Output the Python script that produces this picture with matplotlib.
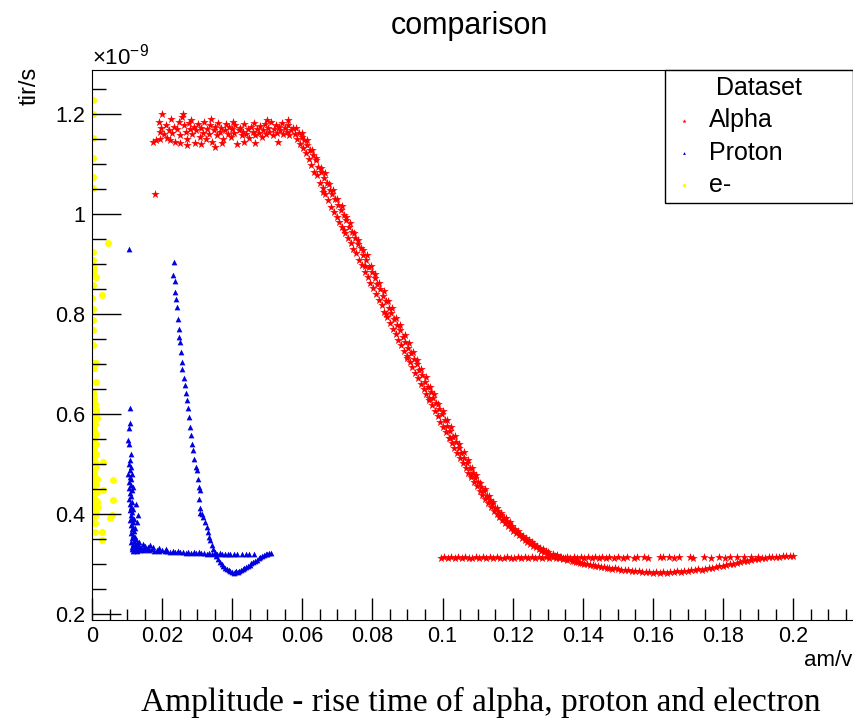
import numpy as np
import matplotlib
matplotlib.use("Agg")
import matplotlib.pyplot as plt
from matplotlib.ticker import MultipleLocator, FuncFormatter

plt.rcParams['font.family'] = ['Liberation Sans', 'DejaVu Sans']
plt.rcParams['mathtext.fontset'] = 'custom'
plt.rcParams['mathtext.rm'] = 'Liberation Sans'

# amplitude (am/v) vs rise time (tir/s, in units of 1e-9 s)
alpha_plateau = [
    (0.0180, 1.041), (0.0175, 1.145), (0.0182, 1.148), (0.0190, 1.185), (0.0193, 1.165),
    (0.0198, 1.172), (0.0201, 1.200), (0.0205, 1.160), (0.0210, 1.178), (0.0214, 1.152),
    (0.0220, 1.168), (0.0225, 1.190), (0.0229, 1.162), (0.0234, 1.175), (0.0238, 1.145),
    (0.0243, 1.170), (0.0248, 1.185), (0.0252, 1.158), (0.0256, 1.195), (0.0260, 1.200),
    (0.0263, 1.178), (0.0268, 1.165), (0.0272, 1.150), (0.0276, 1.182), (0.0281, 1.170),
    (0.0285, 1.160), (0.0290, 1.175), (0.0294, 1.142), (0.0298, 1.168), (0.0303, 1.180),
    (0.0307, 1.155), (0.0312, 1.172), (0.0316, 1.163), (0.0320, 1.185), (0.0325, 1.150),
    (0.0329, 1.170), (0.0334, 1.160), (0.0338, 1.178), (0.0342, 1.145), (0.0347, 1.168),
    (0.0351, 1.175), (0.0356, 1.158), (0.0360, 1.182), (0.0365, 1.165), (0.0369, 1.172),
    (0.0373, 1.150), (0.0378, 1.168), (0.0382, 1.180), (0.0387, 1.160), (0.0391, 1.175),
    (0.0396, 1.155), (0.0400, 1.170), (0.0405, 1.162), (0.0409, 1.178), (0.0413, 1.140),
    (0.0418, 1.168), (0.0422, 1.172), (0.0427, 1.158), (0.0431, 1.165), (0.0435, 1.180),
    (0.0440, 1.160), (0.0444, 1.170), (0.0449, 1.152), (0.0453, 1.175), (0.0458, 1.165),
    (0.0462, 1.182), (0.0466, 1.158), (0.0471, 1.170), (0.0475, 1.163), (0.0480, 1.176),
    (0.0484, 1.155), (0.0489, 1.168), (0.0493, 1.180), (0.0497, 1.160), (0.0502, 1.172),
    (0.0506, 1.165), (0.0511, 1.185), (0.0515, 1.158), (0.0519, 1.170), (0.0524, 1.178),
    (0.0528, 1.162), (0.0533, 1.175), (0.0537, 1.168), (0.0542, 1.182), (0.0546, 1.160),
    (0.0550, 1.172), (0.0555, 1.165), (0.0559, 1.178), (0.0563, 1.158), (0.0568, 1.168),
    (0.0195, 1.150), (0.0222, 1.148), (0.0250, 1.142), (0.0283, 1.188), (0.0310, 1.140),
    (0.0340, 1.190), (0.0372, 1.142), (0.0403, 1.185), (0.0433, 1.145), (0.0465, 1.143),
    (0.0498, 1.188), (0.0530, 1.145), (0.0560, 1.188), (0.0574, 1.172), (0.0579, 1.160),
    (0.0270, 1.138), (0.0350, 1.135),
]

alpha_fall = [
    (0.0582, 1.172), (0.0586, 1.150), (0.0590, 1.162), (0.0594, 1.140), (0.0598, 1.155),
    (0.0602, 1.132), (0.0606, 1.148), (0.0610, 1.122), (0.0614, 1.138), (0.0618, 1.110),
    (0.0622, 1.128), (0.0626, 1.098), (0.0630, 1.118), (0.0634, 1.085), (0.0638, 1.108),
    (0.0642, 1.078), (0.0646, 1.095), (0.0650, 1.062), (0.0654, 1.085), (0.0658, 1.052),
    (0.0662, 1.072), (0.0666, 1.040), (0.0670, 1.062), (0.0674, 1.028), (0.0678, 1.048),
    (0.0682, 1.015), (0.0686, 1.040), (0.0690, 1.005), (0.0694, 1.030), (0.0698, 0.995),
    (0.0702, 1.018), (0.0706, 0.985), (0.0710, 1.008), (0.0714, 0.975), (0.0718, 0.998),
    (0.0722, 0.962), (0.0726, 0.988), (0.0730, 0.952), (0.0734, 0.975), (0.0738, 0.942),
    (0.0742, 0.965), (0.0746, 0.930), (0.0750, 0.952), (0.0754, 0.922), (0.0758, 0.940),
    (0.0762, 0.908), (0.0766, 0.932), (0.0770, 0.898), (0.0774, 0.918), (0.0778, 0.885),
    (0.0782, 0.908), (0.0786, 0.875), (0.0790, 0.895), (0.0794, 0.862), (0.0798, 0.885),
    (0.0802, 0.852), (0.0806, 0.872), (0.0810, 0.840), (0.0814, 0.860), (0.0818, 0.828),
    (0.0822, 0.850), (0.0826, 0.818), (0.0830, 0.836), (0.0834, 0.805), (0.0838, 0.826),
    (0.0842, 0.795), (0.0846, 0.812), (0.0850, 0.782), (0.0854, 0.802), (0.0858, 0.770),
    (0.0862, 0.790), (0.0866, 0.760), (0.0870, 0.778), (0.0874, 0.748), (0.0878, 0.768),
    (0.0882, 0.738), (0.0886, 0.755), (0.0890, 0.726), (0.0894, 0.745), (0.0898, 0.716),
    (0.0902, 0.732), (0.0906, 0.704), (0.0910, 0.722), (0.0914, 0.694), (0.0918, 0.710),
    (0.0922, 0.682), (0.0926, 0.700), (0.0930, 0.672), (0.0934, 0.688), (0.0938, 0.660),
    (0.0942, 0.678), (0.0946, 0.650), (0.0950, 0.665), (0.0954, 0.640), (0.0958, 0.655),
    (0.0962, 0.628), (0.0966, 0.644), (0.0970, 0.618), (0.0974, 0.632), (0.0978, 0.606),
    (0.0982, 0.622), (0.0986, 0.596), (0.0990, 0.610), (0.0994, 0.585), (0.0998, 0.600),
    (0.1002, 0.575), (0.1006, 0.588), (0.1010, 0.565), (0.1014, 0.576), (0.1018, 0.553),
    (0.1022, 0.566), (0.1026, 0.543), (0.1030, 0.554), (0.1034, 0.532), (0.1038, 0.544),
    (0.1042, 0.522), (0.1046, 0.532), (0.1050, 0.512), (0.1054, 0.522), (0.1058, 0.502),
    (0.1062, 0.512), (0.1066, 0.492), (0.1070, 0.502), (0.1074, 0.482), (0.1078, 0.492),
    (0.1082, 0.474), (0.1086, 0.482), (0.1090, 0.465), (0.1094, 0.473), (0.1098, 0.456),
    (0.1102, 0.464), (0.1106, 0.447), (0.1110, 0.455), (0.1114, 0.438), (0.1118, 0.446),
    (0.1122, 0.430), (0.1126, 0.437), (0.1130, 0.422), (0.1134, 0.429), (0.1138, 0.414),
    (0.1142, 0.421), (0.1146, 0.407), (0.1150, 0.413), (0.1154, 0.400), (0.1158, 0.406),
    (0.1162, 0.394), (0.1166, 0.399), (0.1170, 0.388), (0.1174, 0.393), (0.1178, 0.382),
    (0.1182, 0.387), (0.1186, 0.377), (0.1190, 0.381), (0.1194, 0.372), (0.1198, 0.376),
    (0.1202, 0.367), (0.1206, 0.371), (0.1210, 0.362), (0.1214, 0.366), (0.1218, 0.358),
    (0.1222, 0.361), (0.1226, 0.353), (0.1230, 0.357), (0.1234, 0.349), (0.1238, 0.352),
    (0.1242, 0.345), (0.1246, 0.348), (0.1250, 0.341), (0.1254, 0.344), (0.1258, 0.337),
    (0.1262, 0.340), (0.1266, 0.334), (0.1270, 0.337), (0.1274, 0.330), (0.1278, 0.333),
    (0.1282, 0.327), (0.1286, 0.330), (0.1290, 0.324), (0.1294, 0.327), (0.1298, 0.321),
    (0.1302, 0.324), (0.1308, 0.319), (0.1314, 0.321), (0.1320, 0.316), (0.1326, 0.318),
    (0.1332, 0.313), (0.1338, 0.315), (0.1344, 0.311), (0.1350, 0.312), (0.1356, 0.308),
    (0.1362, 0.310), (0.1368, 0.306), (0.1374, 0.307), (0.1380, 0.304), (0.1386, 0.305),
    (0.1392, 0.302), (0.1398, 0.303), (0.1405, 0.300), (0.1412, 0.301), (0.1420, 0.298),
    (0.1428, 0.299), (0.1436, 0.296), (0.1444, 0.297), (0.1452, 0.294), (0.1460, 0.295),
    (0.1468, 0.292), (0.1476, 0.293), (0.1484, 0.291), (0.1492, 0.292), (0.1500, 0.290),
    (0.1510, 0.289), (0.1520, 0.288), (0.1530, 0.289), (0.1540, 0.287), (0.1550, 0.286),
    (0.1560, 0.287), (0.1570, 0.285), (0.1580, 0.284), (0.1590, 0.285), (0.1600, 0.283),
    (0.1610, 0.284), (0.1620, 0.283), (0.1630, 0.284), (0.1640, 0.283), (0.1650, 0.285),
    (0.1660, 0.284), (0.1670, 0.286), (0.1680, 0.285), (0.1690, 0.287), (0.1700, 0.286),
    (0.1710, 0.288), (0.1720, 0.288), (0.1730, 0.290), (0.1740, 0.289), (0.1750, 0.291),
    (0.1760, 0.292), (0.1770, 0.293), (0.1780, 0.294), (0.1790, 0.296), (0.1800, 0.297),
    (0.1810, 0.298), (0.1820, 0.300), (0.1830, 0.301), (0.1840, 0.303), (0.1850, 0.304),
    (0.1860, 0.306), (0.1870, 0.307), (0.1880, 0.309), (0.1890, 0.310), (0.1900, 0.311),
    (0.1910, 0.312), (0.1920, 0.313), (0.1930, 0.314), (0.1940, 0.314), (0.1950, 0.315),
    (0.1960, 0.315), (0.1970, 0.316), (0.1980, 0.316), (0.1990, 0.317), (0.2000, 0.316),
]

# extra scatter around the falling edge
alpha_fall_extra = [
    (0.0600, 1.162), (0.0612, 1.148), (0.0628, 1.128), (0.0640, 1.112), (0.0652, 1.092),
    (0.0664, 1.082), (0.0676, 1.060), (0.0688, 1.048), (0.0700, 1.030), (0.0712, 1.016),
    (0.0724, 0.995), (0.0736, 0.982), (0.0748, 0.962), (0.0760, 0.948), (0.0772, 0.928),
    (0.0784, 0.918), (0.0796, 0.896), (0.0808, 0.880), (0.0820, 0.862), (0.0832, 0.846),
    (0.0844, 0.826), (0.0856, 0.812), (0.0868, 0.792), (0.0880, 0.778), (0.0892, 0.758),
    (0.0904, 0.742), (0.0916, 0.724), (0.0928, 0.708), (0.0940, 0.690), (0.0952, 0.674),
    (0.0964, 0.654), (0.0976, 0.640), (0.0988, 0.620), (0.1000, 0.606), (0.1012, 0.588),
    (0.1024, 0.574), (0.1036, 0.556), (0.1048, 0.540), (0.1060, 0.524), (0.1072, 0.508),
    (0.1084, 0.492), (0.1096, 0.478), (0.1108, 0.462), (0.1120, 0.450), (0.1132, 0.436),
    (0.1144, 0.425), (0.1156, 0.412), (0.1168, 0.402), (0.1180, 0.392), (0.1192, 0.384),
    (0.0660, 1.045), (0.0720, 0.968), (0.0780, 0.896), (0.0840, 0.800), (0.0900, 0.712),
    (0.0960, 0.632), (0.1020, 0.552), (0.1080, 0.478),
]

alpha_flat = [
    (0.0995, 0.312), (0.1005, 0.314), (0.1015, 0.313), (0.1025, 0.315), (0.1035, 0.312),
    (0.1045, 0.314), (0.1055, 0.313), (0.1065, 0.315), (0.1075, 0.312), (0.1085, 0.313),
    (0.1095, 0.315), (0.1105, 0.312), (0.1115, 0.314), (0.1125, 0.313), (0.1135, 0.315),
    (0.1145, 0.312), (0.1155, 0.314), (0.1165, 0.313), (0.1175, 0.312), (0.1185, 0.315),
    (0.1195, 0.313), (0.1205, 0.312), (0.1215, 0.314), (0.1225, 0.313), (0.1235, 0.315),
    (0.1245, 0.312), (0.1255, 0.314), (0.1265, 0.313), (0.1275, 0.315), (0.1285, 0.312),
    (0.1295, 0.314), (0.1305, 0.313), (0.1315, 0.315), (0.1325, 0.312), (0.1335, 0.314),
    (0.1345, 0.313), (0.1355, 0.315), (0.1365, 0.313), (0.1375, 0.314), (0.1385, 0.312),
    (0.1395, 0.314), (0.1405, 0.313), (0.1415, 0.315), (0.1425, 0.313), (0.1435, 0.314),
    (0.1445, 0.312), (0.1455, 0.314), (0.1465, 0.313), (0.1475, 0.315), (0.1490, 0.313),
    (0.1500, 0.314), (0.1515, 0.313), (0.1525, 0.315), (0.1545, 0.313), (0.1555, 0.314),
    (0.1575, 0.314), (0.1585, 0.313), (0.1620, 0.314), (0.1630, 0.315), (0.1645, 0.314),
    (0.1660, 0.313), (0.1675, 0.315), (0.1705, 0.314), (0.1715, 0.313), (0.1745, 0.314),
    (0.1765, 0.313), (0.1790, 0.314), (0.1805, 0.313), (0.1820, 0.315), (0.1840, 0.314),
    (0.1860, 0.315), (0.1880, 0.314), (0.1900, 0.315),
]

proton_band = [
    (0.0105, 0.930), (0.0108, 0.612), (0.0109, 0.582), (0.0103, 0.548), (0.0106, 0.540),
    (0.0108, 0.508), (0.0105, 0.500), (0.0110, 0.495), (0.0107, 0.488), (0.0104, 0.480),
    (0.0109, 0.475), (0.0112, 0.470), (0.0106, 0.465), (0.0110, 0.458), (0.0105, 0.452),
    (0.0113, 0.448), (0.0108, 0.442), (0.0111, 0.436), (0.0106, 0.430), (0.0114, 0.425),
    (0.0109, 0.420), (0.0112, 0.414), (0.0107, 0.408), (0.0115, 0.404), (0.0110, 0.398),
    (0.0113, 0.392), (0.0108, 0.388), (0.0116, 0.384), (0.0111, 0.378), (0.0118, 0.374),
    (0.0113, 0.370), (0.0120, 0.366), (0.0110, 0.362), (0.0117, 0.358), (0.0122, 0.355),
    (0.0114, 0.352), (0.0125, 0.350), (0.0119, 0.347), (0.0112, 0.344), (0.0128, 0.343),
    (0.0116, 0.340), (0.0122, 0.338), (0.0131, 0.338), (0.0113, 0.335), (0.0119, 0.333),
    (0.0126, 0.334), (0.0135, 0.336), (0.0115, 0.330), (0.0122, 0.329), (0.0130, 0.331),
    (0.0140, 0.333), (0.0118, 0.326), (0.0127, 0.326), (0.0136, 0.328), (0.0145, 0.330),
    (0.0131, 0.398), (0.0128, 0.385), (0.0125, 0.420), (0.0116, 0.455), (0.0118, 0.410),
    (0.0121, 0.390), (0.0115, 0.480), (0.0112, 0.520), (0.0106, 0.572), (0.0124, 0.372),
]

proton_flat = [
    (0.0140, 0.332), (0.0148, 0.329), (0.0155, 0.331), (0.0162, 0.328), (0.0170, 0.330),
    (0.0178, 0.327), (0.0185, 0.329), (0.0192, 0.326), (0.0200, 0.328), (0.0208, 0.326),
    (0.0215, 0.327), (0.0222, 0.325), (0.0230, 0.327), (0.0238, 0.324), (0.0245, 0.326),
    (0.0252, 0.324), (0.0260, 0.325), (0.0268, 0.323), (0.0275, 0.325), (0.0282, 0.323),
    (0.0290, 0.324), (0.0298, 0.322), (0.0305, 0.324), (0.0312, 0.322), (0.0320, 0.323),
    (0.0328, 0.321), (0.0335, 0.323), (0.0342, 0.321), (0.0350, 0.322), (0.0358, 0.320),
    (0.0365, 0.322), (0.0372, 0.320), (0.0380, 0.321), (0.0388, 0.320), (0.0395, 0.321),
    (0.0405, 0.320), (0.0415, 0.321), (0.0428, 0.320), (0.0438, 0.321), (0.0448, 0.320),
    (0.0462, 0.321), (0.0150, 0.336), (0.0160, 0.334), (0.0175, 0.335), (0.0190, 0.332),
    (0.0210, 0.331), (0.0165, 0.338), (0.0145, 0.340), (0.0135, 0.345),
]

proton_fall = [
    (0.0234, 0.905), (0.0231, 0.879), (0.0236, 0.867), (0.0238, 0.845), (0.0240, 0.830),
    (0.0242, 0.815), (0.0245, 0.790), (0.0247, 0.770), (0.0249, 0.755), (0.0251, 0.745),
    (0.0254, 0.725), (0.0256, 0.705), (0.0258, 0.690), (0.0262, 0.672), (0.0266, 0.658),
    (0.0268, 0.642), (0.0271, 0.628), (0.0275, 0.612), (0.0278, 0.594), (0.0281, 0.575),
    (0.0283, 0.558), (0.0286, 0.540), (0.0288, 0.528), (0.0292, 0.510), (0.0296, 0.495),
    (0.0300, 0.488), (0.0302, 0.470), (0.0305, 0.455), (0.0307, 0.448), (0.0306, 0.430),
    (0.0308, 0.412), (0.0308, 0.402), (0.0313, 0.400), (0.0318, 0.395), (0.0322, 0.385),
    (0.0328, 0.374), (0.0331, 0.365), (0.0335, 0.355), (0.0337, 0.348), (0.0342, 0.338),
    (0.0346, 0.330), (0.0350, 0.324), (0.0355, 0.316), (0.0360, 0.310), (0.0365, 0.305),
    (0.0370, 0.300), (0.0375, 0.296), (0.0380, 0.293), (0.0385, 0.291), (0.0390, 0.288),
    (0.0395, 0.286), (0.0400, 0.284), (0.0404, 0.283), (0.0408, 0.285), (0.0412, 0.286),
    (0.0416, 0.284), (0.0420, 0.287), (0.0425, 0.289), (0.0430, 0.290), (0.0435, 0.292),
    (0.0440, 0.294), (0.0445, 0.296), (0.0450, 0.299), (0.0455, 0.302), (0.0460, 0.304),
    (0.0465, 0.307), (0.0470, 0.309), (0.0475, 0.312), (0.0480, 0.314), (0.0485, 0.316),
    (0.0490, 0.318), (0.0495, 0.320), (0.0500, 0.321), (0.0505, 0.322), (0.0510, 0.323),
]

electron_pts = [
    (0.0003, 1.229), (0.0003, 1.201), (0.0004, 1.153), (0.0002, 1.113), (0.0003, 1.075),
    (0.0004, 1.053), (0.0046, 0.943), (0.0002, 0.925), (0.0003, 0.909), (0.0005, 0.893),
    (0.0004, 0.885), (0.0010, 0.875), (0.0004, 0.859), (0.0028, 0.839), (0.0000, 0.833),
    (0.0004, 0.811), (0.0003, 0.789), (0.0004, 0.769), (0.0002, 0.739), (0.0003, 0.703),
    (0.0011, 0.703), (0.0005, 0.693), (0.0012, 0.665), (0.0003, 0.638), (0.0004, 0.622),
    (0.0014, 0.592), (0.0031, 0.448), (0.0060, 0.428), (0.0017, 0.414), (0.0051, 0.392),
    (0.0009, 0.382), (0.0029, 0.364), (0.0009, 0.364), (0.0029, 0.348), (0.0060, 0.468),
    (0.0030, 0.504), (0.0057, 0.398),
    (0.0004, 0.644), (0.0002, 0.638), (0.0006, 0.632), (0.0003, 0.626), (0.0008, 0.620),
    (0.0001, 0.615), (0.0005, 0.610), (0.0010, 0.604), (0.0003, 0.600), (0.0007, 0.595),
    (0.0002, 0.590), (0.0005, 0.585), (0.0009, 0.580), (0.0001, 0.575), (0.0006, 0.570),
    (0.0004, 0.565), (0.0011, 0.560), (0.0002, 0.555), (0.0007, 0.550), (0.0004, 0.545),
    (0.0009, 0.540), (0.0001, 0.535), (0.0006, 0.530), (0.0003, 0.525), (0.0012, 0.520),
    (0.0005, 0.515), (0.0002, 0.510), (0.0008, 0.505), (0.0004, 0.500), (0.0010, 0.495),
    (0.0001, 0.490), (0.0006, 0.485), (0.0003, 0.480), (0.0009, 0.475), (0.0005, 0.470),
    (0.0002, 0.465), (0.0011, 0.460), (0.0007, 0.455), (0.0003, 0.450), (0.0013, 0.445),
    (0.0005, 0.440), (0.0001, 0.435), (0.0009, 0.430), (0.0004, 0.425), (0.0007, 0.420),
    (0.0002, 0.415), (0.0010, 0.410), (0.0005, 0.405), (0.0003, 0.400), (0.0008, 0.396),
    (0.0012, 0.402), (0.0001, 0.394), (0.0014, 0.425), (0.0013, 0.470), (0.0012, 0.540),
    (0.0011, 0.610),
]

alpha = np.array(alpha_plateau + alpha_fall + alpha_fall_extra + alpha_flat)
proton = np.array(proton_band + proton_flat + proton_fall)
electron = np.array(electron_pts)

fig = plt.figure(figsize=(8.54, 7.25), dpi=100)
ax = fig.add_axes([92/854, 105/725, 761/854, 550/725])

ax.scatter(alpha[:, 0], alpha[:, 1], s=42, marker='*', color='#ff0000', linewidths=0, label='Alpha')
ax.scatter(proton[:, 0], proton[:, 1], s=17, marker='^', color='#0000e0', linewidths=0, label='Proton')
ax.scatter(electron[:, 0], electron[:, 1], s=26, marker='o', color='#ffff00', linewidths=0, label='e-')

ax.set_xlim(0, 0.2171)
ax.set_ylim(0.188, 1.288)

ax.xaxis.set_major_locator(MultipleLocator(0.02))
ax.xaxis.set_minor_locator(MultipleLocator(0.005))
ax.yaxis.set_major_locator(MultipleLocator(0.2))
ax.yaxis.set_minor_locator(MultipleLocator(0.05))
fmt = FuncFormatter(lambda v, p: '%g' % round(v, 4))
ax.xaxis.set_major_formatter(fmt)
ax.yaxis.set_major_formatter(fmt)

ax.tick_params(which='both', direction='in', top=False, right=False, labelsize=15.5, width=1)
ax.tick_params(axis='y', which='major', length=21, pad=5)
ax.tick_params(axis='y', which='minor', length=10)
ax.tick_params(axis='x', which='major', length=16, pad=4)
ax.tick_params(axis='x', which='minor', length=8)
ax.spines['right'].set_visible(False)

leg = ax.legend(title='Dataset', loc='upper left', mode='expand',
                bbox_to_anchor=(665/854, 1 - 70/725, 188/854, 0), bbox_transform=fig.transFigure,
                borderaxespad=0, fontsize=18, title_fontsize=18, frameon=True, fancybox=False,
                edgecolor='black', framealpha=1, markerscale=0.5, handletextpad=0.5,
                labelspacing=0.33, borderpad=0.25, handlelength=1.0)
leg.get_frame().set_linewidth(1.0)

fig.text(469/854, 1 - 26/725, 'comparison', ha='center', va='center', fontsize=22)
fig.text(92/854, 1 - 57/725, r'$\times10^{-9}$', ha='left', va='center', fontsize=16)
fig.text(30/854, 1 - 86/725, 'tir/s', rotation=90, ha='center', va='center', fontsize=17)
fig.text(852/854, 1 - 660/725, 'am/v', ha='right', va='center', fontsize=16)
fig.text(481/854, 1 - 702/725, 'Amplitude - rise time of alpha, proton and electron',
         ha='center', va='center', fontsize=24, family='Liberation Serif')

fig.savefig('out.png', dpi=100)
